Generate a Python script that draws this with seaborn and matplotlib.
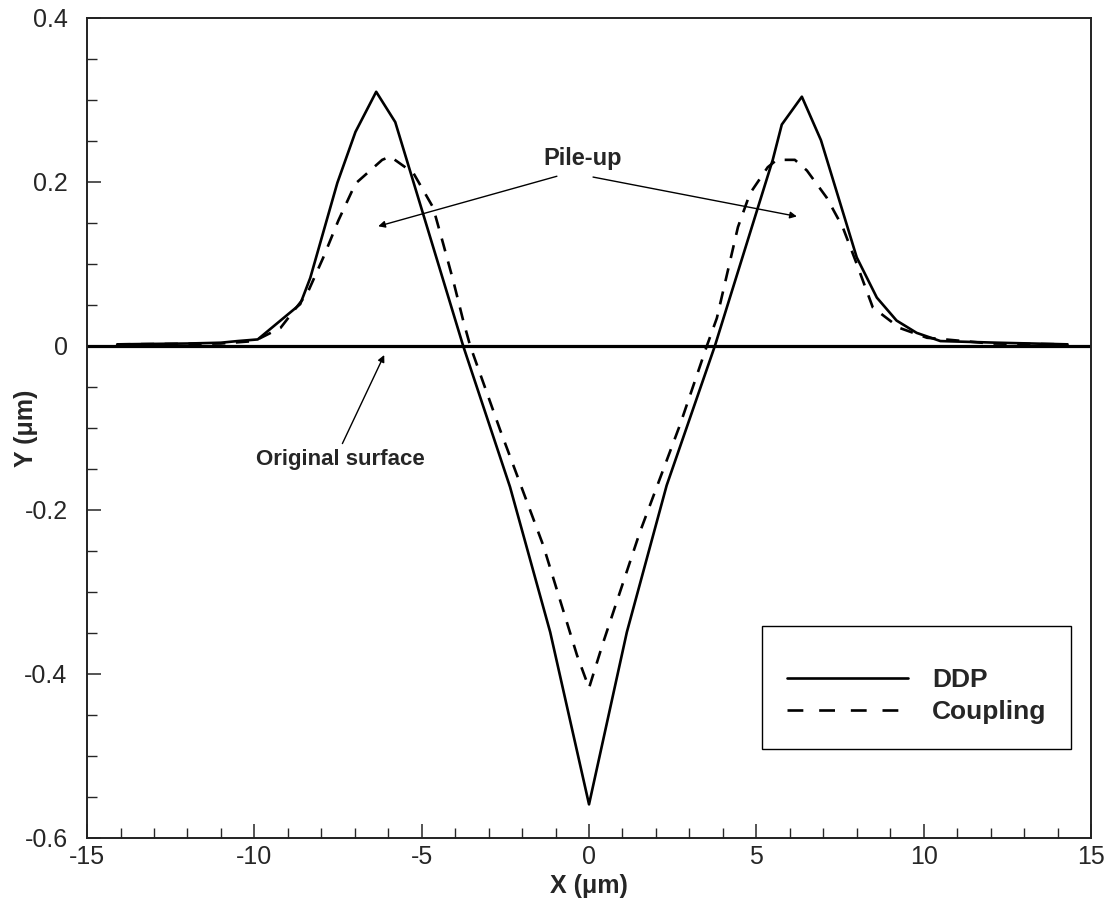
import numpy as np
import pandas as pd
import seaborn as sns
import matplotlib
matplotlib.use("Agg")
import matplotlib.pyplot as plt
from matplotlib.ticker import MultipleLocator
from matplotlib.lines import Line2D

# Surface profile after indentation, DDP model
ddp_x = [-14.1, -12.0, -11.0, -10.5, -9.9, -8.63, -8.33, -7.52, -6.98, -6.36,
         -5.79, -3.76, -2.36, -1.16, 0.0, 1.13, 2.32, 3.76, 5.49, 5.76,
         6.36, 6.93, 8.0, 8.6, 9.19, 9.79, 10.5, 12.2, 14.3]
ddp_y = [0.002, 0.003, 0.004, 0.006, 0.008, 0.051, 0.083, 0.199, 0.261, 0.310,
         0.273, 0.0, -0.172, -0.349, -0.559, -0.349, -0.170, 0.0, 0.227, 0.270,
         0.304, 0.251, 0.108, 0.059, 0.031, 0.016, 0.006, 0.004, 0.002]

# Surface profile after indentation, coupled model
cpl_x = [-14.1, -11.0, -10.0, -9.22, -8.42, -7.94, -7.49, -6.98, -6.18, -5.94,
         -5.25, -4.66, -4.36, -4.06, -3.76, -3.55, -2.66, -1.37, -0.36, 0.0,
         0.42, 1.52, 2.72, 3.52, 3.82, 4.45, 4.81, 5.34, 5.61, 6.15,
         6.51, 7.10, 7.58, 8.0, 8.48, 9.28, 10.1, 12.0, 14.3]
cpl_y = [0.002, 0.003, 0.006, 0.022, 0.064, 0.108, 0.153, 0.198, 0.227, 0.231,
         0.211, 0.169, 0.125, 0.080, 0.031, 0.0, -0.102, -0.243, -0.377, -0.417,
         -0.362, -0.227, -0.096, 0.0, 0.034, 0.145, 0.186, 0.218, 0.227, 0.227,
         0.214, 0.181, 0.145, 0.100, 0.047, 0.022, 0.010, 0.003, 0.002]

series_names = ["DDP", "Coupling"]
x_ticks = [-15, -10, -5, 0, 5, 10, 15]
y_ticks = [0.4, 0.2, 0, -0.2, -0.4, -0.6]
y_ticklabels = ["0.4", "0.2", "0", "-0.2", "-0.4", "-0.6"]

df = pd.concat([
    pd.DataFrame({"x": ddp_x, "y": ddp_y, "model": series_names[0]}),
    pd.DataFrame({"x": cpl_x, "y": cpl_y, "model": series_names[1]}),
], ignore_index=True)

sns.set_theme(style="ticks")
plt.rcParams["font.family"] = ["Liberation Sans", "DejaVu Sans"]

fig = plt.figure(figsize=(11.16, 9.08), dpi=100)
ax = fig.add_axes([0.078, 0.0771, 0.8996, 0.9031])

sns.lineplot(data=df, x="x", y="y", hue="model", style="model",
             palette={"DDP": "black", "Coupling": "black"},
             dashes={"DDP": "", "Coupling": (5, 4)},
             sort=False, estimator=None, linewidth=1.9, legend=False, ax=ax)

# Original (undeformed) surface
ax.axhline(0.0, color="black", linewidth=2.3, zorder=1)

ax.set_xlim(-15, 15)
ax.set_ylim(-0.6, 0.4)
ax.set_xticks(x_ticks)
ax.set_xticklabels([str(v) for v in x_ticks])
ax.set_yticks(y_ticks)
ax.set_yticklabels(y_ticklabels)
ax.xaxis.set_minor_locator(MultipleLocator(1))
ax.yaxis.set_minor_locator(MultipleLocator(0.05))
ax.tick_params(axis="both", which="major", direction="in", length=10, width=1.1,
               labelsize=18, top=False, right=False)
ax.tick_params(axis="x", which="major", pad=5)
ax.tick_params(axis="y", which="major", pad=14)
ax.tick_params(axis="both", which="minor", direction="in", length=7, width=1.0,
               top=False, right=False)
for s in ax.spines.values():
    s.set_linewidth(1.4)
    s.set_color("#222222")

ax.set_xlabel("X (μm)", fontsize=18, fontweight="bold", va="center")
ax.set_ylabel("Y (μm)", fontsize=18, fontweight="bold", va="center")
ax.xaxis.set_label_coords(0.5, -0.058)
ax.yaxis.set_label_coords(-0.061, 0.5)

# Annotations
arrow_kw = dict(arrowstyle="-|>", color="black", lw=1.0, mutation_scale=10,
                shrinkA=0, shrinkB=0)
ax.text(-0.18, 0.229, "Pile-up", fontsize=17, fontweight="bold",
        ha="center", va="center")
ax.annotate("", xy=(-6.30, 0.146), xytext=(-0.96, 0.207), arrowprops=arrow_kw)
ax.annotate("", xy=(6.21, 0.158), xytext=(0.12, 0.206), arrowprops=arrow_kw)
ax.text(-7.43, -0.139, "Original surface", fontsize=16, fontweight="bold",
        ha="center", va="center")
ax.annotate("", xy=(-6.12, -0.011), xytext=(-7.37, -0.119), arrowprops=arrow_kw)

handles = [Line2D([], [], color="black", lw=1.9, ls="-"),
           Line2D([], [], color="black", lw=1.9, dashes=(6, 6))]
leg = ax.legend(handles, series_names, loc="upper left",
                bbox_to_anchor=(0.672, 0.2585), frameon=True, fancybox=False,
                edgecolor="black", framealpha=1, handlelength=4.6,
                handletextpad=0.9, borderpad=0.95, labelspacing=0.28,
                borderaxespad=0, prop={"weight": "bold", "size": 19},
                title=" ", title_fontsize=7)
leg.get_frame().set_linewidth(1.0)

fig.savefig("out.png", dpi=100)
